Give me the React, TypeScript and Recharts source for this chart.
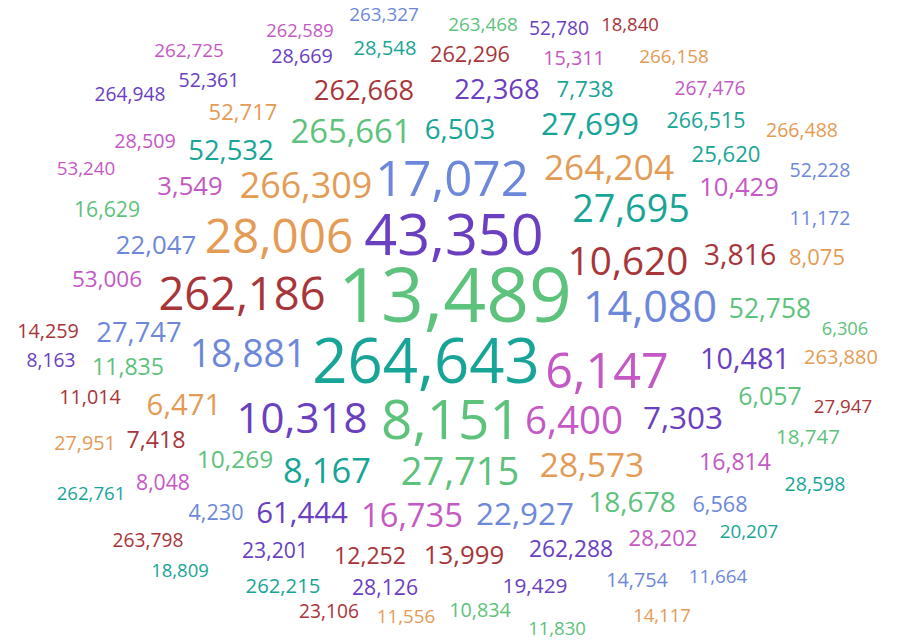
import { ScatterChart, Scatter, XAxis, YAxis } from 'recharts';

// palette: green, purple, blue, orange, red, teal, magenta
const palette = ['#5dc27b', '#6a40c0', '#6d88da', '#e39b55', '#a8353a', '#18a597', '#c458c4'];

const labels = [
  '263,327', '262,589', '262,725', '28,669', '28,548', '52,361', '264,948', '262,668', '52,717', '265,661',
  '28,509', '52,532', '53,240', '3,549', '266,309', '17,072', '16,629', '263,468', '52,780', '18,840',
  '262,296', '15,311', '266,158', '22,368', '7,738', '267,476', '6,503', '27,699', '266,515', '266,488',
  '264,204', '25,620', '52,228', '10,429', '27,695', '11,172', '22,047', '28,006', '43,350', '53,006',
  '262,186', '13,489', '14,259', '27,747', '8,163', '11,835', '18,881', '264,643', '11,014', '6,471',
  '10,318', '8,151', '10,620', '3,816', '8,075', '14,080', '52,758', '6,306', '6,147', '10,481',
  '263,880', '6,057', '27,947', '6,400', '7,303', '27,951', '7,418', '10,269', '8,167', '27,715',
  '262,761', '8,048', '4,230', '61,444', '16,735', '263,798', '23,201', '12,252', '13,999', '18,809',
  '262,215', '28,126', '23,106', '11,556', '28,573', '16,814', '18,747', '28,598', '22,927', '18,678',
  '6,568', '20,207', '28,202', '262,288', '19,429', '14,754', '11,664', '10,834', '11,830', '14,117',
];

// word centre (x) and baseline (y)
const xs = [
  384, 300, 189, 302, 385, 209, 130, 364, 243, 351,
  145, 231, 86, 190, 306, 452, 107, 483, 559, 630,
  470, 574, 674, 497, 585, 710, 460, 590, 706, 802,
  609, 726, 820, 739, 631, 820, 156, 279, 454, 107,
  242, 455, 48, 139, 51, 128, 248, 426, 90, 184,
  302, 451, 628, 740, 817, 650, 770, 845, 607, 745,
  841, 770, 843, 574, 683, 85, 156, 235, 327, 460,
  91, 163, 216, 302, 412, 148, 275, 370, 464, 180,
  283, 385, 329, 406, 592, 735, 808, 815, 525, 632,
  720, 749, 663, 571, 535, 637, 718, 480, 557, 662,
];
const ys = [
  21, 37, 57, 63, 55, 87, 101, 100, 120, 143,
  148, 160, 175, 195, 198, 196, 217, 31, 35, 31,
  62, 65, 63, 99, 97, 95, 139, 135, 128, 137,
  180, 162, 177, 196, 222, 225, 254, 253, 255, 287,
  310, 322, 338, 342, 367, 375, 367, 383, 404, 415,
  433, 439, 275, 265, 265, 322, 318, 335, 388, 369,
  364, 405, 413, 434, 429, 450, 448, 468, 483, 485,
  500, 490, 520, 523, 527, 547, 558, 564, 564, 577,
  593, 595, 618, 623, 477, 470, 444, 491, 525, 512,
  512, 538, 546, 557, 593, 587, 583, 617, 635, 622,
];
const weights = [
  18.9, 18.3, 18.9, 19.8, 20.2, 19.5, 19.2, 27.2, 22.1, 32.8,
  19.8, 27.4, 18.8, 25.7, 35.9, 49.3, 21.2, 18.9, 19.2, 18.5,
  21.7, 19.8, 18.9, 27.4, 22.4, 19.2, 27.7, 31.4, 21.4, 19.5,
  35.3, 22.1, 19.5, 25.5, 37.7, 19.5, 25.8, 47.6, 57.5, 22.5,
  45.3, 75, 19.8, 27.4, 19.2, 23.1, 37.4, 61.7, 19.8, 29.4,
  42, 55, 38.7, 28.5, 22, 43, 26.4, 18.3, 48.5, 28.8,
  20, 24.9, 18.8, 38.5, 31.5, 19.8, 23.2, 24.5, 34.5, 38,
  18.6, 21.2, 21.6, 29.4, 32.7, 19.2, 21.2, 23.1, 25.8, 18.5,
  20.3, 21.2, 19.2, 18.8, 33.5, 23.1, 20.5, 19.5, 31.4, 28.1,
  21.6, 18.8, 22.1, 22.8, 20.8, 19.8, 18.8, 19.8, 18.5, 18.5,
];
const groups = [
  2, 6, 6, 1, 5, 1, 1, 4, 3, 0,
  6, 5, 6, 6, 3, 2, 0, 0, 1, 4,
  4, 6, 3, 1, 5, 6, 5, 5, 5, 3,
  3, 5, 2, 6, 5, 2, 2, 3, 1, 6,
  4, 0, 4, 2, 1, 0, 2, 5, 4, 3,
  1, 0, 4, 4, 3, 2, 0, 0, 6, 1,
  3, 0, 4, 6, 1, 3, 4, 0, 5, 0,
  5, 6, 2, 1, 6, 4, 1, 4, 4, 5,
  5, 1, 4, 3, 3, 6, 0, 5, 2, 0,
  2, 5, 6, 1, 1, 2, 2, 0, 0, 3,
];

const data = labels.map((label, i) => ({
  label,
  x: xs[i],
  y: ys[i],
  weight: weights[i],
  group: groups[i],
}));

const renderWord = (props: any) => {
  const { cx, cy, payload } = props;
  if (cx == null || cy == null) return <g />;
  return (
    <text
      x={cx}
      y={cy}
      textAnchor="middle"
      fontSize={payload.weight}
      fill={palette[payload.group]}
      fontFamily="'Open Sans', sans-serif"
    >
      {payload.label}
    </text>
  );
};

export default function App() {
  return (
    <div style={{ position: 'absolute', left: 0, top: 0, width: 897, height: 641, background: '#fff' }}>
      <ScatterChart width={897} height={641} margin={{ top: 0, right: 0, bottom: 0, left: 0 }}>
        <XAxis type="number" dataKey="x" domain={[0, 897]} hide />
        <YAxis type="number" dataKey="y" domain={[0, 641]} reversed hide width={0} />
        <Scatter data={data} isAnimationActive={false} shape={renderWord} />
      </ScatterChart>
    </div>
  );
}
